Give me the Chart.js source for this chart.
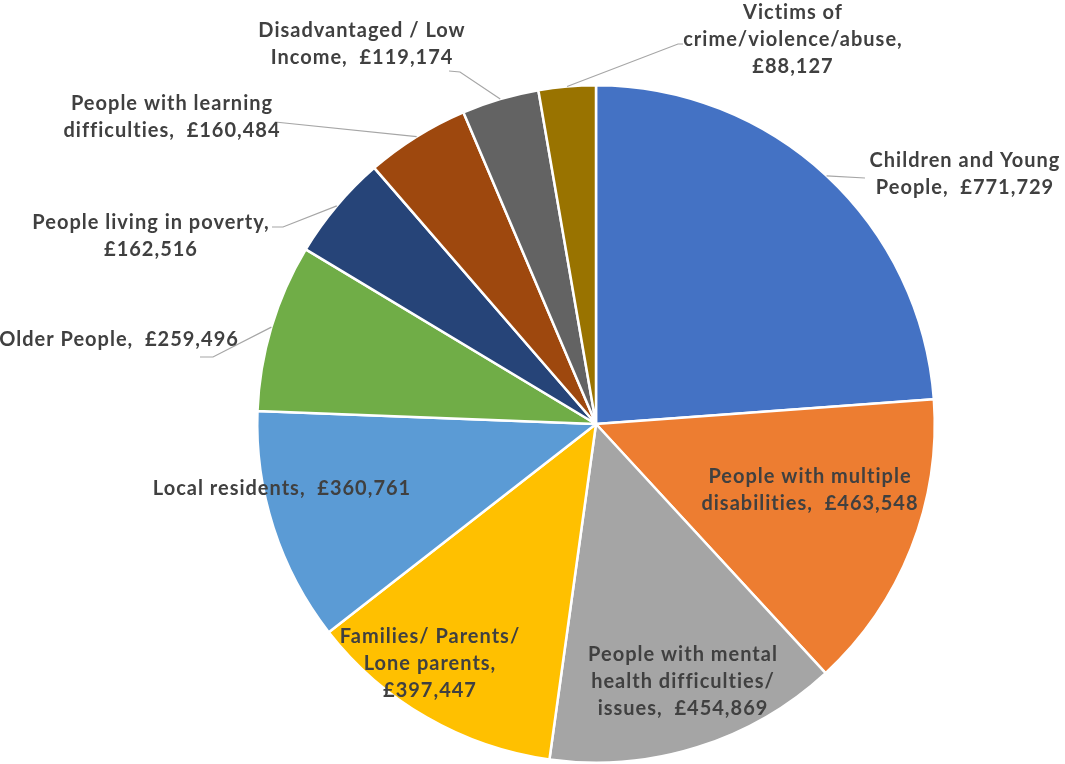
<!DOCTYPE html>
<html>
<head>
<meta charset="utf-8">
<script src="https://cdn.jsdelivr.net/npm/chart.js@4.4.1/dist/chart.umd.min.js"></script>
<style>
    html, body { margin: 0; padding: 0; background: #fff; }
    #wrap { width: 1065px; height: 764px; }
</style>
</head>
<body>
<div id="wrap"><canvas id="myChart" width="1065" height="764"></canvas></div>
<script>
const categories = [
    'Children and Young People',
    'People with multiple disabilities',
    'People with mental health difficulties/ issues',
    'Families/ Parents/ Lone parents',
    'Local residents',
    'Older People',
    'People living in poverty',
    'People with learning difficulties',
    'Disadvantaged / Low Income',
    'Victims of crime/violence/abuse'
];
const amounts = [771729, 463548, 454869, 397447, 360761, 259496, 162516, 160484, 119174, 88127];
const sliceColors = ['#4472C4', '#ED7D31', '#A5A5A5', '#FFC000', '#5B9BD5', '#70AD47', '#264478', '#9E480E', '#636363', '#997300'];

// how each label wraps; {v} is replaced with the amount
const labelLines = [
    ['Children and Young', 'People,  {v}'],
    ['People with multiple', 'disabilities,  {v}'],
    ['People with mental', 'health difficulties/', 'issues,  {v}'],
    ['Families/ Parents/', 'Lone parents,', '{v}'],
    ['Local residents,  {v}'],
    ['Older People,  {v}'],
    ['People living in poverty,', '{v}'],
    ['People with learning', 'difficulties,  {v}'],
    ['Disadvantaged / Low', 'Income,  {v}'],
    ['Victims of', 'crime/violence/abuse,', '{v}']
];
// label centre, offset from pie centre (px)
const labelPos = [
    [369, -250], [214, 66], [87, 258], [-166, 240], [-314, 65],
    [-477, -84], [-445, -188], [-424, -307], [-234, -380], [197, -384]
];
// leader line points, offset from label centre (px)
const leaders = [
    [[-100, 4]], null, null, null, null,
    [[94, 17], [81, 17]], [[132, -9], [121, -9]], [[103, 5]], [[98, 28], [87, 27]], [[-115, 4], [-110, 4]]
];

function money(v) {
    return '£' + v.toLocaleString('en-GB');
}

const pieLabels = {
    id: 'pieLabels',
    afterDatasetsDraw(chart) {
        const ctx = chart.ctx;
        const meta = chart.getDatasetMeta(0);
        ctx.save();
        meta.data.forEach((arc, i) => {
            const p = arc.getProps(['x', 'y', 'startAngle', 'endAngle', 'outerRadius'], true);
            const mid = (p.startAngle + p.endAngle) / 2;
            const lx = p.x + labelPos[i][0];
            const ly = p.y + labelPos[i][1];
            if (leaders[i]) {
                ctx.strokeStyle = '#a6a6a6';
                ctx.lineWidth = 1.2;
                ctx.beginPath();
                ctx.moveTo(p.x + Math.cos(mid) * p.outerRadius, p.y + Math.sin(mid) * p.outerRadius);
                leaders[i].forEach(pt => ctx.lineTo(lx + pt[0], ly + pt[1]));
                ctx.stroke();
            }
            const lines = labelLines[i].map(s => s.replace('{v}', money(amounts[i])));
            ctx.fillStyle = '#404040';
            ctx.font = 'bold 20px Lato';
            ctx.letterSpacing = '1px';
            ctx.textAlign = 'center';
            ctx.textBaseline = 'middle';
            const lh = 27;
            lines.forEach((s, k) => {
                ctx.fillText(s, lx, ly + (k - (lines.length - 1) / 2) * lh);
            });
        });
        ctx.restore();
    }
};

new Chart(document.getElementById('myChart'), {
    type: 'pie',
    data: {
        labels: categories,
        datasets: [{
            data: amounts,
            backgroundColor: sliceColors,
            borderColor: '#ffffff',
            borderWidth: 2.5
        }]
    },
    options: {
        responsive: false,
        animation: false,
        layout: { padding: { left: 256, right: 129, top: 84, bottom: 0 } },
        plugins: {
            legend: { display: false },
            tooltip: { enabled: false }
        }
    },
    plugins: [pieLabels]
});
</script>
</body>
</html>
